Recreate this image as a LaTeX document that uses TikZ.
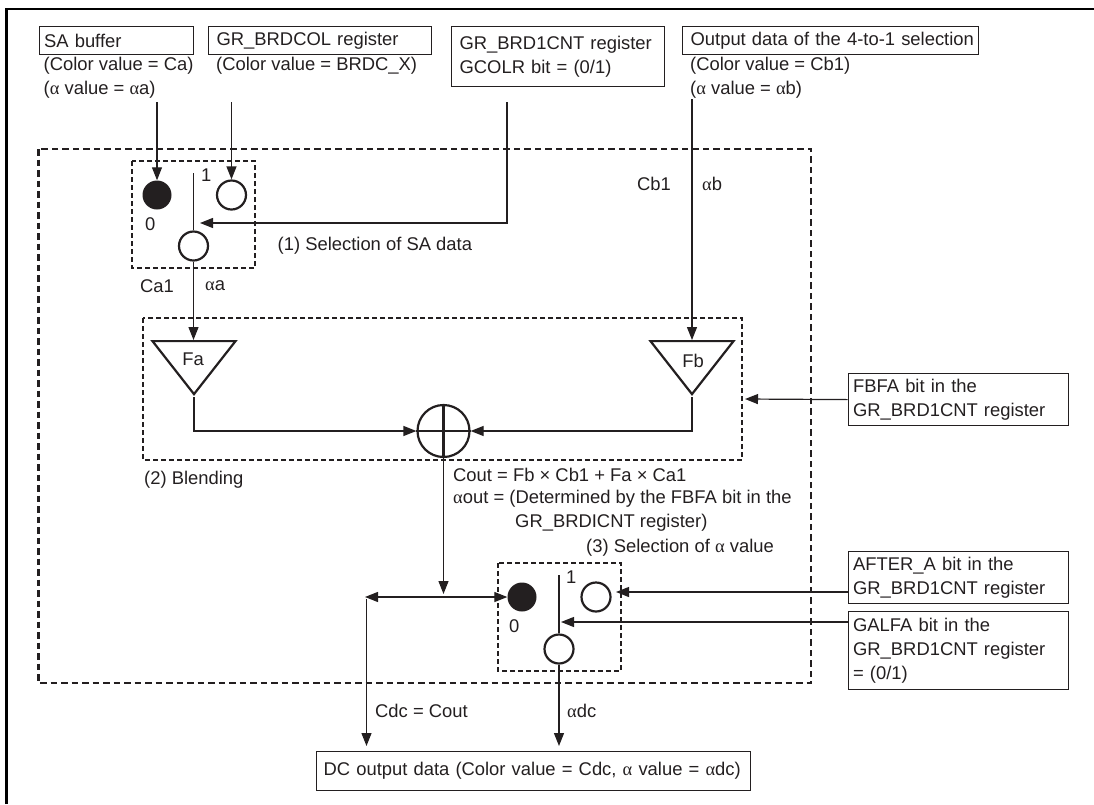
\documentclass[tikz,border=0pt]{standalone}
\usepackage{fontspec}
\setmainfont{Liberation Sans}
\newfontfamily\greekfont{Liberation Serif}
\usetikzlibrary{arrows.meta,shapes.geometric}
\definecolor{inkdark}{HTML}{231F20}
\newcommand{\al}{{\greekfont α}}
\tikzset{
  every node/.style={font=\fontsize{18.4}{24}\selectfont,text=inkdark},
  line/.style={inkdark,line width=1.2pt},
  arr/.style={line,-{Triangle[length=13pt,width=10pt]}},
  lbl/.style={anchor=west,inner sep=0pt},
  regbox/.style={draw=inkdark,line width=1.2pt,anchor=north west,inner sep=0pt,align=left},
  swon/.style={circle,fill=inkdark,minimum size=29pt,inner sep=0pt},
  swoff/.style={circle,draw=inkdark,fill=white,line width=2.2pt,minimum size=29pt,inner sep=0pt},
  blend/.style={isosceles triangle,shape border rotate=-90,isosceles triangle stretches=true,
    draw=inkdark,line width=2.2pt,minimum width=83pt,minimum height=53pt,inner sep=0pt,anchor=apex},
  outerdash/.style={inkdark,line width=2.4pt,dash pattern=on 6.5pt off 4pt},
  innerdash/.style={inkdark,line width=1.1pt,dash pattern=on 5pt off 3pt},
}
\begin{document}
\begin{tikzpicture}[x=1pt,y=-1pt]
    \useasboundingbox (0,0) rectangle (1094,804);
    \draw[black,line width=2.6pt] (6.5,804) -- (6.5,9) -- (1094,9);
    % dashed regions
    \draw[outerdash] (38.5,149) rectangle (811,683);
    \draw[innerdash] (132,161) rectangle (255,268);
    \draw[innerdash] (143,318) rectangle (742,460);
    \draw[innerdash] (498,563) rectangle (621,671);
    % input boxes
    \node[regbox,text width=154pt,minimum height=28pt] (sabuf) at (38.5,26)
      {\hspace*{5pt}SA buffer};
    \node[regbox,text width=223pt,minimum height=28pt] (brdcol) at (208,26)
      {\hspace*{8pt}GR\_BRDCOL register};
    \node[regbox,text width=213pt,minimum height=60pt] (cnt) at (451,26)
      {\hspace*{8pt}GR\_BRD1CNT register\\\hspace*{8pt}GCOLR bit = (0/1)};
    \node[regbox,text width=296pt,minimum height=28pt] (selout) at (682,26)
      {\hspace*{8pt}Output data of the 4-to-1 selection};
    \node[lbl] (saca) at (43.5,66) {(Color value = Ca)};
    \node[lbl] (saal) at (43.5,90) {(\al\ value = \al a)};
    \node[lbl] (brdcolval) at (216,66) {(Color value = BRDC\_X)};
    \node[lbl] (selcb) at (690,66) {(Color value = Cb1)};
    \node[lbl] (selal) at (690,90) {(\al\ value = \al b)};
    % boxes on the right and below
    \node[regbox,text width=220pt,minimum height=52pt] (fbfa) at (847.5,373)
      {\hspace*{5pt}FBFA bit in the\\\hspace*{5pt}GR\_BRD1CNT register};
    \node[regbox,text width=220pt,minimum height=52pt] (after) at (847.5,551)
      {\hspace*{5pt}AFTER\_A bit in the\\\hspace*{5pt}GR\_BRD1CNT register};
    \node[regbox,text width=220pt,minimum height=78pt] (galfa) at (847.5,611)
      {\hspace*{5pt}GALFA bit in the\\\hspace*{5pt}GR\_BRD1CNT register\\\hspace*{5pt}= (0/1)};
    \node[regbox,text width=434pt,minimum height=39pt] (dcout) at (316,751)
      {\hspace*{7pt}DC output data (Color value = Cdc, \al\ value = \al dc)};
    % selection of SA data
    \node[swon] (sela) at (157,195) {};
    \node[swoff] (selb) at (231.5,195) {};
    \node[swoff] (selc) at (193.5,246) {};
    \node[lbl] (selone) at (201,175) {1};
    \node[lbl] (selzero) at (145,224) {0};
    \node[lbl] (selname) at (277.5,246) {(1) Selection of SA data};
    \node[lbl] (caone) at (140,286) {Ca1};
    \node[lbl] (alphaa) at (205,286) {\al a};
    \node[lbl] (cbone) at (637,184) {Cb1};
    \node[lbl] (alphab) at (702,184) {\al b};
    % blending
    \node[blend] (fa) at (194,397) {};
    \node[blend] (fb) at (692,397) {};
    \node (fatxt) at (193,359) {Fa};
    \node (fbtxt) at (693,361) {Fb};
    \node[circle,draw=inkdark,fill=white,line width=2.2pt,minimum size=52pt,inner sep=0pt] (sum) at (443.5,431) {};
    \node[lbl] (blendname) at (144,480) {(2) Blending};
    \node[lbl] (cout) at (453,475) {Cout = Fb × Cb1 + Fa × Ca1};
    \node[lbl] (aout) at (453,499) {\al out = (Determined by the FBFA bit in the};
    \node[lbl] (aoutb) at (515,523) {GR\_BRDICNT register)};
    % selection of alpha value
    \node[lbl] (swname) at (586,548) {(3) Selection of \al\ value};
    \node[swon] (swa) at (522,597) {};
    \node[swoff] (swb) at (596,597) {};
    \node[swoff] (swc) at (559,649) {};
    \node[lbl] (swone) at (566,577) {1};
    \node[lbl] (swzero) at (509,626) {0};
    \node[lbl] (cdc) at (375,711) {Cdc = Cout};
    \node[lbl] (adc) at (567,711) {\al dc};
    % free ends
    \coordinate (sain) at (157,102);
    \coordinate (brdcolin) at (231.5,102);
    \coordinate (cntin) at (507,102);
    \coordinate (selctl) at (200,223);
    \coordinate (seltop) at (193.5,173);
    \coordinate (cbin) at (692,99);
    \coordinate (blendin) at (745,399);
    \coordinate (joint) at (443.5,594);
    \coordinate (cdcl) at (365,597);
    \coordinate (cdctop) at (366.5,599);
    \coordinate (swtop) at (559,575);
    \coordinate (afterout) at (847.5,592);
    \coordinate (swbin) at (616,592);
    \coordinate (galfaout) at (847.5,622);
    \coordinate (swctl) at (561,622);
    % connectors
    \draw[arr] (sain) -- (sela);
    \draw[arr] (brdcolin) -- (selb);
    \draw[line] (seltop) -- (selc);
    \draw[arr] (cntin) |- (selctl);
    \draw[arr] (selc) -- (selc |- fa.lower side);
    \draw[arr] (cbin) -- (fb.lower side);
    \draw[arr] (fa.apex) |- (sum);
    \draw[arr] (fb.apex) |- (sum);
    \draw[line,line width=2.2pt] (sum.north) -- (sum.south) (sum.west) -- (sum.east);
    \draw[arr] (sum) -- (joint);
    \draw[line,{Triangle[length=13pt,width=10pt]}-{Triangle[length=13pt,width=10pt]}] (cdcl) -- (swa);
    \draw[arr,shorten >=5pt] (cdctop) -- (cdctop |- dcout.north);
    \draw[line] (swtop) -- (swc);
    \draw[arr,shorten >=5pt] (swc) -- (swc |- dcout.north);
    \draw[arr] (fbfa.west) -- (blendin);
    \draw[arr] (afterout) -- (swbin);
    \draw[arr] (galfaout) -- (swctl);
\end{tikzpicture}
\end{document}
